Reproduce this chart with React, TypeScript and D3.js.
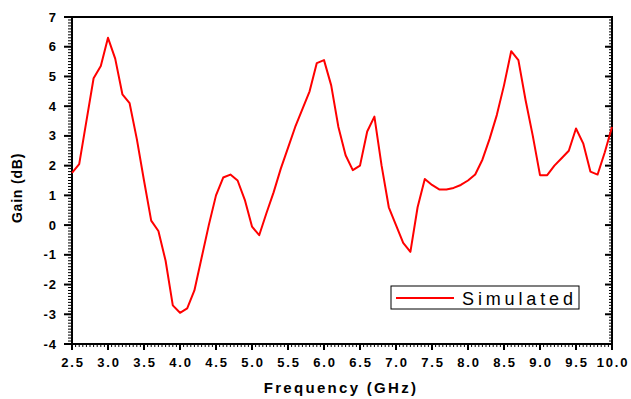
import React from "react";
import * as d3 from "d3";

const freq: number[] = [2.5,2.6,2.7,2.8,2.9,3.0,3.1,3.2,3.3,3.4,3.5,3.6,3.7,3.8,3.9,4.0,4.1,4.2,4.3,4.4,4.5,4.6,4.7,4.8,4.9,5.0,5.1,5.2,5.3,5.4,5.5,5.6,5.7,5.8,5.9,6.0,6.1,6.2,6.3,6.4,6.5,6.6,6.7,6.8,6.9,7.0,7.1,7.2,7.3,7.4,7.5,7.6,7.7,7.8,7.9,8.0,8.1,8.2,8.3,8.4,8.5,8.6,8.7,8.8,8.9,9.0,9.1,9.2,9.3,9.4,9.5,9.6,9.7,9.8,9.9,10.0];
const gain: number[] = [1.76,2.05,3.5,4.94,5.35,6.3,5.6,4.4,4.1,2.9,1.5,0.15,-0.2,-1.2,-2.7,-2.95,-2.8,-2.2,-1.1,0.0,1.0,1.6,1.7,1.5,0.85,-0.05,-0.34,0.4,1.1,1.9,2.6,3.3,3.9,4.5,5.45,5.55,4.7,3.3,2.35,1.85,2.0,3.15,3.65,2.0,0.6,0.0,-0.6,-0.9,0.6,1.55,1.35,1.2,1.2,1.25,1.35,1.5,1.7,2.2,2.9,3.7,4.7,5.85,5.55,4.2,3.0,1.68,1.68,2.0,2.25,2.5,3.25,2.75,1.8,1.7,2.45,3.3];
const xTicks: number[] = [2.5,3.0,3.5,4.0,4.5,5.0,5.5,6.0,6.5,7.0,7.5,8.0,8.5,9.0,9.5,10.0];
const yTicks: number[] = [-4,-3,-2,-1,0,1,2,3,4,5,6,7];
const seriesName = "Simulated";
const xTitle = "Frequency (GHz)";
const yTitle = "Gain (dB)";

export default function App() {
  const W = 631, H = 399;
  const L = 72, R = 612, T = 17, B = 344;
  const x = d3.scaleLinear().domain([2.5, 10]).range([L, R]);
  const y = d3.scaleLinear().domain([-4, 7]).range([B, T]);
  const line = d3.line<number>().x((_, i) => x(freq[i])).y((d) => y(d));
  const xMinor = d3.range(0, 151).map((i) => 2.5 + i * 0.05);
  const yMinor = d3.range(0, 111).map((i) => -4 + i * 0.1);
  const font = "'Liberation Sans', Arial, sans-serif";
  return (
    <svg width={W} height={H} style={{ position: "absolute", left: 0, top: 0, background: "#fff" }}>
      <rect width={W} height={H} fill="#fff" />
      {xMinor.map((v, i) => (
        <line key={"xm" + i} x1={x(v)} x2={x(v)} y1={B} y2={B + 3} stroke="#000" strokeWidth={1} />
      ))}
      {xTicks.map((v, i) => (
        <line key={"xM" + i} x1={x(v)} x2={x(v)} y1={B} y2={B + 6} stroke="#000" strokeWidth={2} />
      ))}
      {yMinor.map((v, i) => (
        <g key={"ym" + i}>
          <line x1={L - 4} x2={L} y1={y(v)} y2={y(v)} stroke="#000" strokeWidth={1} />
          <line x1={R} x2={R - 3} y1={y(v)} y2={y(v)} stroke="#000" strokeWidth={1} />
        </g>
      ))}
      {yTicks.map((v, i) => (
        <g key={"yM" + i}>
          <line x1={L - 8} x2={L} y1={y(v)} y2={y(v)} stroke="#000" strokeWidth={2} />
          <line x1={R} x2={R - 7} y1={y(v)} y2={y(v)} stroke="#000" strokeWidth={2} />
        </g>
      ))}
      <rect x={L} y={T} width={R - L} height={B - T} fill="none" stroke="#000" strokeWidth={2} />
      <path d={line(gain) || ""} fill="none" stroke="#ff0000" strokeWidth={2} strokeLinejoin="round" />
      {xTicks.map((v, i) => (
        <text key={"xl" + i} x={x(v) + 1} y={367} textAnchor="middle" fontFamily={font} fontWeight="bold" fontSize={13} letterSpacing={1.8} fill="#000">
          {v.toFixed(1)}
        </text>
      ))}
      {yTicks.map((v, i) => (
        <text key={"yl" + i} x={57} y={y(v) + 4.5} textAnchor="end" fontFamily={font} fontWeight="bold" fontSize={13} letterSpacing={1} fill="#000">
          {v}
        </text>
      ))}
      <text x={341} y={393} textAnchor="middle" fontFamily={font} fontWeight="bold" fontSize={15} letterSpacing={2.3} fill="#000">{xTitle}</text>
      <text transform={`translate(22,188) rotate(-90)`} textAnchor="middle" fontFamily={font} fontWeight="bold" fontSize={14} letterSpacing={0.8} fill="#000">{yTitle}</text>
      <rect x={391} y={286} width={188} height={23} fill="#fff" stroke="#000" strokeWidth={1} />
      <line x1={396} x2={454} y1={298} y2={298} stroke="#ff0000" strokeWidth={2} />
      <text x={462} y={304.5} fontFamily={font} fontSize={18} textLength={111} lengthAdjust="spacing" fill="#000">{seriesName}</text>
    </svg>
  );
}
